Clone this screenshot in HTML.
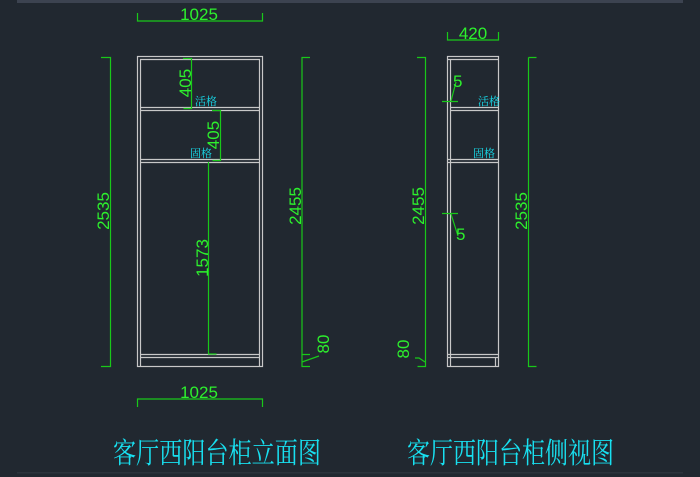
<!DOCTYPE html>
<html><head><meta charset="utf-8"><style>
html,body{margin:0;padding:0;background:#212830;width:700px;height:477px;overflow:hidden}
svg{display:block}
.g{stroke:#19c819;stroke-width:1.2;fill:none}
.w{stroke:#c8c8c8;stroke-width:1.2;fill:none}
.t{fill:#2df02d;font-family:"Liberation Sans",sans-serif;font-size:17px}
.c{fill:#18e0f0;font-family:"Liberation Serif","Noto Serif CJK SC",serif}
</style></head><body>
<svg width="700" height="477" viewBox="0 0 700 477">
<rect x="17" y="0" width="666" height="3" fill="#3c4350"/>
<rect x="17" y="472" width="666" height="1.5" fill="#2c333c"/>
<!-- front cabinet -->
<g class="w">
<rect x="137.5" y="56.5" width="125" height="310"/>
<line x1="140.5" y1="59" x2="140.5" y2="366"/>
<line x1="259.5" y1="59" x2="259.5" y2="366"/>
<line x1="140" y1="59.5" x2="260" y2="59.5"/>
<line x1="140" y1="107.5" x2="260" y2="107.5"/>
<line x1="140" y1="110.5" x2="260" y2="110.5"/>
<line x1="140" y1="159.5" x2="260" y2="159.5"/>
<line x1="140" y1="162.5" x2="260" y2="162.5"/>
<line x1="140" y1="354.5" x2="260" y2="354.5"/>
<line x1="140" y1="357.5" x2="260" y2="357.5"/>
</g>
<g class="g">
<path d="M137.5 13v8h125v-8"/>
<path d="M137.5 407v-8h125v8"/>
<path d="M101 57.5h9.5v309h-9.5"/>
<path d="M310 57.5h-8v297h8"/>
<path d="M302 354.5v12h8"/>
<path d="M302 362l17-6"/>
<path d="M183 58.5h8.5v50h-8"/>
<path d="M212 110.5h8.5v50h-8"/>
<path d="M208.5 162v192h8"/>
</g>
<text class="t" x="199" y="20" text-anchor="middle">1025</text>
<text class="t" x="199" y="398" text-anchor="middle">1025</text>
<text class="t" transform="translate(109,211) rotate(-90)" text-anchor="middle">2535</text>
<text class="t" transform="translate(301,206) rotate(-90)" text-anchor="middle">2455</text>
<text class="t" transform="translate(191,83) rotate(-90)" text-anchor="middle">405</text>
<text class="t" transform="translate(219,135) rotate(-90)" text-anchor="middle">405</text>
<text class="t" transform="translate(208,258) rotate(-90)" text-anchor="middle">1573</text>
<text class="t" transform="translate(329,344) rotate(-90)" text-anchor="middle">80</text>
<text class="c" x="195" y="105" font-size="11">活格</text>
<text class="c" x="190" y="157" font-size="11">固格</text>
<!-- side cabinet -->
<g class="w">
<rect x="447.5" y="56.5" width="51" height="310"/>
<line x1="450.5" y1="59" x2="450.5" y2="366"/>
<line x1="448" y1="59.5" x2="498" y2="59.5"/>
<line x1="450" y1="107.5" x2="498" y2="107.5"/>
<line x1="450" y1="110.5" x2="498" y2="110.5"/>
<line x1="448" y1="159.5" x2="498" y2="159.5"/>
<line x1="448" y1="162.5" x2="498" y2="162.5"/>
<line x1="448" y1="354.5" x2="498" y2="354.5"/>
<line x1="448" y1="357.5" x2="498" y2="357.5"/>
<line x1="495.5" y1="357" x2="495.5" y2="366"/>
</g>
<g class="g">
<path d="M447.5 32v8h51v-8"/>
<path d="M417 57.5h8.5v297"/>
<path d="M425.5 354.5v12h-8"/>
<path d="M425 362l-6-4h-4"/>
<path d="M528.5 57.5h8M528.5 57.5v309h8"/>
<path d="M442 101.5h16M442 213.5h16"/>
<path d="M451 101l5-19M451 214l7 22"/>
</g>
<text class="t" x="473" y="39" text-anchor="middle">420</text>
<text class="t" transform="translate(424,206) rotate(-90)" text-anchor="middle">2455</text>
<text class="t" transform="translate(527,211) rotate(-90)" text-anchor="middle">2535</text>
<text class="t" transform="translate(409,349) rotate(-90)" text-anchor="middle">80</text>
<text class="t" x="453" y="87">5</text>
<text class="t" x="456" y="240">5</text>
<text class="c" x="478" y="105" font-size="11">活格</text>
<text class="c" x="473" y="157" font-size="11">固格</text>
<text class="c" x="113" y="463" font-size="29" textLength="208" lengthAdjust="spacingAndGlyphs">客厅西阳台柜立面图</text>
<text class="c" x="407" y="463" font-size="29" textLength="207" lengthAdjust="spacingAndGlyphs">客厅西阳台柜侧视图</text>
</svg>
</body></html>
